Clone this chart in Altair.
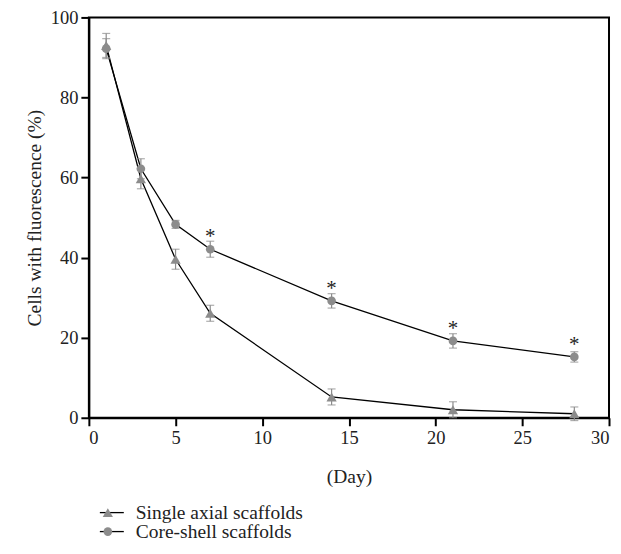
import altair as alt
import pandas as pd

days = [1, 3, 5, 7, 14, 21, 28]
single_vals = [93, 59.7, 39.6, 26.1, 5.2, 2.0, 1.0]
single_err = [3.0, 2.5, 2.5, 2.0, 2.0, 2.0, 1.7]
core_vals = [92.2, 62.2, 48.3, 42.1, 29.2, 19.2, 15.2]
core_err = [2.5, 2.5, 1.0, 2.0, 1.8, 1.8, 1.3]
sig_days = [7, 14, 21, 28]
series_names = ["Single axial scaffolds", "Core-shell scaffolds"]

rows = []
for name, vals, errs in [(series_names[0], single_vals, single_err),
                         (series_names[1], core_vals, core_err)]:
    for d, v, e in zip(days, vals, errs):
        rows.append({"day": d, "value": v, "lo": v - e, "hi": v + e, "series": name})
df = pd.DataFrame(rows)
sig_df = df[(df["series"] == series_names[1]) & (df["day"].isin(sig_days))]

FONT = "Liberation Serif, Times New Roman, DejaVu Serif, serif"
GRAY = "#8c8c8c"

x_enc = alt.X("day:Q", scale=alt.Scale(domain=[0, 30], nice=False),
              axis=alt.Axis(title="(Day)", values=[0, 5, 10, 15, 20, 25, 30]))
y_enc = alt.Y("value:Q", scale=alt.Scale(domain=[0, 100], nice=False),
              axis=alt.Axis(title="Cells with fluorescence (%)", values=[0, 20, 40, 60, 80, 100]))
shape_scale = alt.Scale(domain=series_names, range=["triangle-up", "circle"])
size_scale = alt.Scale(domain=series_names, range=[105, 75])

base = alt.Chart(df)

lines = base.mark_line(color="black", strokeWidth=1.3).encode(
    x=x_enc, y=y_enc, detail="series:N")

err_rule = base.mark_rule(color=GRAY, strokeWidth=1.2).encode(
    x="day:Q", y="lo:Q", y2="hi:Q")
cap_lo = base.mark_tick(color=GRAY, orient="horizontal", size=8, thickness=1.2).encode(
    x="day:Q", y="lo:Q")
cap_hi = base.mark_tick(color=GRAY, orient="horizontal", size=8, thickness=1.2).encode(
    x="day:Q", y="hi:Q")

points = base.mark_point(filled=True, color=GRAY, opacity=1).encode(
    x="day:Q", y="value:Q",
    shape=alt.Shape("series:N", scale=shape_scale, legend=None),
    size=alt.Size("series:N", scale=size_scale, legend=None))

stars = alt.Chart(sig_df).mark_text(text="*", font=FONT, fontSize=21, color="#222",
                                    baseline="alphabetic", dy=-6).encode(
    x="day:Q", y="value:Q")

# legend drawn below the plot
legend_layers = []
for i, name in enumerate(series_names):
    one = alt.Chart(pd.DataFrame({"series": [name]}))
    yy = 496 + 19 * i
    legend_layers.append(one.mark_rule(color="black", strokeWidth=1.3).encode(
        x=alt.value(11), x2=alt.value(35), y=alt.value(yy)))
    legend_layers.append(one.mark_point(filled=True, color=GRAY, opacity=1).encode(
        x=alt.value(19), y=alt.value(yy),
        shape=alt.Shape("series:N", scale=shape_scale, legend=None),
        size=alt.Size("series:N", scale=size_scale, legend=None)))
    legend_layers.append(one.mark_text(align="left", baseline="middle", font=FONT,
                                       fontSize=19.5, color="#222").encode(
        x=alt.value(47), y=alt.value(yy), text="series:N"))

chart = alt.layer(lines, err_rule, cap_lo, cap_hi, points, stars, *legend_layers).properties(
    width=521, height=401,
    autosize=alt.AutoSizeParams(type="none"),
    padding={"left": 81, "top": 9, "right": 4, "bottom": 125},
).configure_view(
    stroke="black", strokeWidth=2
).configure_axis(
    domainColor="black", domainWidth=2, tickColor="black", tickWidth=2, tickSize=8,
    grid=False, labelFont=FONT, labelFontSize=18.5, labelColor="#222",
    titleFont=FONT, titleFontSize=19.5, titleFontWeight="normal", titleColor="#222",
    labelPadding=3,
).configure_axisY(titlePadding=6).configure_axisX(titlePadding=20)

chart.save("out.html", embed_options={"renderer": "svg", "actions": False})
